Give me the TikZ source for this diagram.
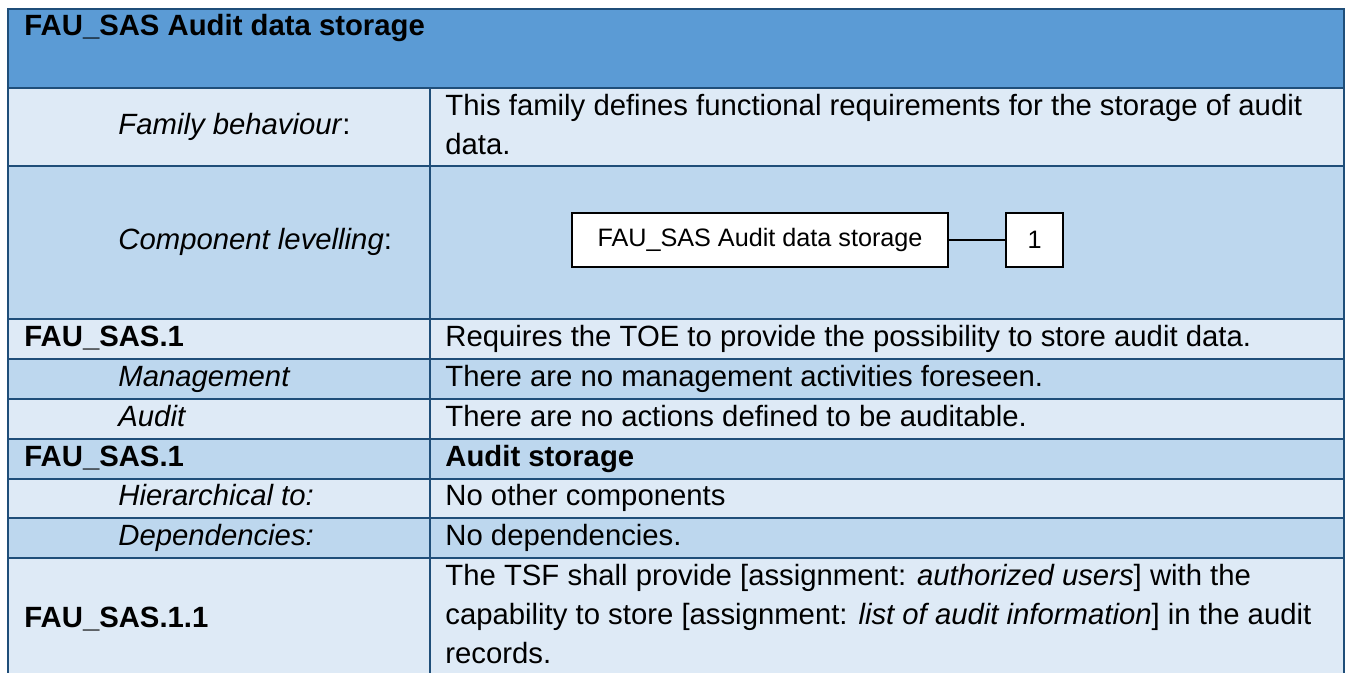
\documentclass[tikz,border=0pt]{standalone}
\usepackage{fontspec}
\setmainfont{Liberation Sans}
\usetikzlibrary{positioning}
\definecolor{hdrblue}{HTML}{5B9BD5}
\definecolor{rowlight}{HTML}{DEEAF6}
\definecolor{rowmid}{HTML}{BDD7EE}
\definecolor{tblrule}{HTML}{1F4E79}
\tikzset{
  txt/.style={anchor=base west, inner sep=0pt, align=left, font=\fontsize{14.65}{19.5}\selectfont},
  lvlbox/.style={draw=black, line width=1pt, fill=white, inner sep=0pt, minimum height=27pt, font=\fontsize{12.6}{15}\selectfont},
  gridline/.style={draw=tblrule, line width=1pt}
}
\begin{document}
\begin{tikzpicture}[x=0.5pt, y=-0.5pt]
    \useasboundingbox (0,0) rectangle (1347,673);
    \clip (0,0) rectangle (1347,673);

    % row backgrounds
    \fill[hdrblue] (8,9) rectangle (1344,88);
    \foreach \top/\bot/\col in {88/166/rowlight, 166/319/rowmid, 319/359/rowlight, 359/399/rowmid,
        399/439/rowlight, 439/479/rowmid, 479/518/rowlight, 518/558/rowmid, 558/690/rowlight}
        \fill[\col] (8,\top) rectangle (1344,\bot);

    % grid
    \draw[gridline] (8,9) rectangle (1344,690);
    \foreach \y in {88,166,319,359,399,439,479,518,558}
        \draw[gridline] (8,\y) -- (1344,\y);
    \draw[gridline] (430,88) -- (430,690);

    % header
    \node[txt] (title) at (24,36) {\textbf{FAU\_SAS Audit data storage}};

    % family behaviour (multi-line text sits on its last baseline)
    \node[txt] (famlbl) at (118,135) {\textit{Family behaviour}:};
    \node[txt] (famtxt) at (445,155) {This family defines functional requirements for the storage of audit\\data.};

    % component levelling
    \node[txt] (cmplbl) at (118,250) {\textit{Component levelling}:};
    \node[lvlbox, minimum width=188pt] (sasbox) at (760,240) {FAU\_SAS Audit data storage};
    \node[lvlbox, minimum width=28.5pt] (onebox) at (1034.5,240) {1};
    % family to component 1
    \draw[line width=1pt] (sasbox) -- (onebox);

    % FAU_SAS.1
    \node[txt] (sasone) at (24,346) {\textbf{FAU\_SAS.1}};
    \node[txt] (sasonetxt) at (445,346) {Requires the TOE to provide the possibility to store audit data.};
    \node[txt] (mgmtlbl) at (118,386) {\textit{Management}};
    \node[txt] (mgmttxt) at (445,386) {There are no management activities foreseen.};
    \node[txt] (auditlbl) at (118,426) {\textit{Audit}};
    \node[txt] (audittxt) at (445,426) {There are no actions defined to be auditable.};

    % FAU_SAS.1 component
    \node[txt] (sascmp) at (24,466) {\textbf{FAU\_SAS.1}};
    \node[txt] (sascmptxt) at (445,466) {\textbf{Audit storage}};
    \node[txt] (hierlbl) at (118,505) {\textit{Hierarchical to:}};
    \node[txt] (hiertxt) at (445,505) {No other components};
    \node[txt] (deplbl) at (118,545) {\textit{Dependencies:}};
    \node[txt] (deptxt) at (445,545) {No dependencies.};

    % FAU_SAS.1.1
    \node[txt] (elemlbl) at (24,627) {\textbf{FAU\_SAS.1.1}};
    \node[txt] (elemtxt) at (445,663) {The TSF shall provide [assignment: \textit{authorized users}] with the\\
        capability to store [assignment: \textit{list of audit information}] in the audit\\records.};
\end{tikzpicture}
\end{document}
